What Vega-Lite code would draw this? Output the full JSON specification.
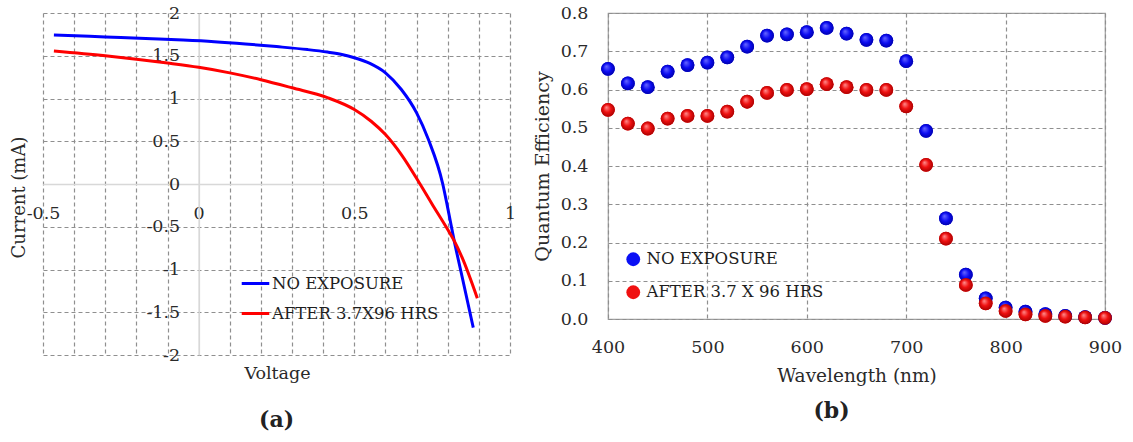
{
  "$schema": "https://vega.github.io/schema/vega-lite/v6.json",
  "background": "white",
  "padding": {"left": 10, "top": 3, "right": 5, "bottom": 5},
  "config": {
    "font": "DejaVu Serif",
    "concat": {"spacing": 16},
    "axis": {"labelFont": "DejaVu Serif", "titleFont": "DejaVu Serif", "labelColor": "#2a2a2a", "titleColor": "#2a2a2a", "titleFontWeight": "normal", "ticks": false, "tickSize": 0},
    "legend": {"labelFont": "DejaVu Serif", "labelColor": "#1e1e1e", "labelLimit": 0}
  },
  "resolve": {"scale": {"color": "independent"}, "legend": {"color": "independent"}},
  "hconcat": [
    {
      "width": 467,
      "height": 342,
      "view": {"stroke": null},
      "title": {"text": "(a)", "orient": "bottom", "frame": "group", "anchor": "middle", "fontSize": 22, "fontWeight": "bold", "font": "DejaVu Serif", "color": "#222222", "offset": 28},
      "data": {"values": [
        {"V": -0.465, "I": 1.743, "series": "NO EXPOSURE"},
        {"V": -0.35, "I": 1.728, "series": "NO EXPOSURE"},
        {"V": -0.25, "I": 1.713, "series": "NO EXPOSURE"},
        {"V": -0.15, "I": 1.698, "series": "NO EXPOSURE"},
        {"V": -0.05, "I": 1.683, "series": "NO EXPOSURE"},
        {"V": 0.05, "I": 1.664, "series": "NO EXPOSURE"},
        {"V": 0.15, "I": 1.638, "series": "NO EXPOSURE"},
        {"V": 0.25, "I": 1.607, "series": "NO EXPOSURE"},
        {"V": 0.35, "I": 1.572, "series": "NO EXPOSURE"},
        {"V": 0.4135, "I": 1.543, "series": "NO EXPOSURE"},
        {"V": 0.46, "I": 1.515, "series": "NO EXPOSURE"},
        {"V": 0.5, "I": 1.477, "series": "NO EXPOSURE"},
        {"V": 0.55, "I": 1.41, "series": "NO EXPOSURE"},
        {"V": 0.6, "I": 1.3, "series": "NO EXPOSURE"},
        {"V": 0.651, "I": 1.105, "series": "NO EXPOSURE"},
        {"V": 0.7, "I": 0.832, "series": "NO EXPOSURE"},
        {"V": 0.738, "I": 0.52, "series": "NO EXPOSURE"},
        {"V": 0.784, "I": 0.0, "series": "NO EXPOSURE"},
        {"V": 0.799, "I": -0.262, "series": "NO EXPOSURE"},
        {"V": 0.819, "I": -0.633, "series": "NO EXPOSURE"},
        {"V": 0.846, "I": -1.082, "series": "NO EXPOSURE"},
        {"V": 0.882, "I": -1.68, "series": "NO EXPOSURE"},
        {"V": -0.465, "I": 1.556, "series": "AFTER 3.7X96 HRS"},
        {"V": -0.3, "I": 1.5, "series": "AFTER 3.7X96 HRS"},
        {"V": -0.2, "I": 1.46, "series": "AFTER 3.7X96 HRS"},
        {"V": -0.1, "I": 1.415, "series": "AFTER 3.7X96 HRS"},
        {"V": 0.0, "I": 1.365, "series": "AFTER 3.7X96 HRS"},
        {"V": 0.1, "I": 1.3, "series": "AFTER 3.7X96 HRS"},
        {"V": 0.2, "I": 1.22, "series": "AFTER 3.7X96 HRS"},
        {"V": 0.3, "I": 1.125, "series": "AFTER 3.7X96 HRS"},
        {"V": 0.4135, "I": 1.01, "series": "AFTER 3.7X96 HRS"},
        {"V": 0.5, "I": 0.871, "series": "AFTER 3.7X96 HRS"},
        {"V": 0.554, "I": 0.734, "series": "AFTER 3.7X96 HRS"},
        {"V": 0.6, "I": 0.578, "series": "AFTER 3.7X96 HRS"},
        {"V": 0.651, "I": 0.344, "series": "AFTER 3.7X96 HRS"},
        {"V": 0.711, "I": 0.0, "series": "AFTER 3.7X96 HRS"},
        {"V": 0.749, "I": -0.23, "series": "AFTER 3.7X96 HRS"},
        {"V": 0.799, "I": -0.527, "series": "AFTER 3.7X96 HRS"},
        {"V": 0.819, "I": -0.652, "series": "AFTER 3.7X96 HRS"},
        {"V": 0.846, "I": -0.859, "series": "AFTER 3.7X96 HRS"},
        {"V": 0.895, "I": -1.336, "series": "AFTER 3.7X96 HRS"}
      ]},
      "mark": {"type": "line", "strokeWidth": 3, "interpolate": "monotone"},
      "encoding": {
        "x": {
          "field": "V", "type": "quantitative",
          "scale": {"domain": [-0.5, 1], "nice": false, "zero": false},
          "axis": {
            "orient": "bottom", "offset": -171,
            "values": [-0.5, -0.4, -0.3, -0.2, -0.1, 0, 0.1, 0.2, 0.3, 0.4, 0.5, 0.6, 0.7, 0.8, 0.9, 1],
            "labelExpr": "(datum.value == -0.5 || datum.value == 0 || datum.value == 0.5 || datum.value == 1) ? (datum.value < 0 ? '-' + format(-datum.value, '') : format(datum.value, '')) : ''",
            "labelFlush": false, "labelOverlap": false, "labelPadding": 20, "labelFontSize": 17.5,
            "grid": true,
            "gridColor": {"condition": {"test": "datum.value == 0", "value": "#d8d8d8"}, "value": "#8f8f8f"},
            "gridDash": {"condition": {"test": "datum.value == 0", "value": []}, "value": [4, 3]},
            "gridWidth": 1.2,
            "domain": true, "domainColor": "#d8d8d8", "domainWidth": 1.5,
            "title": "Voltage", "titleFontSize": 17.5, "titleX": 234, "titleY": 189, "titleAlign": "center", "titleBaseline": "middle", "titleAnchor": null
          }
        },
        "y": {
          "field": "I", "type": "quantitative",
          "scale": {"domain": [-2, 2], "nice": false, "zero": false},
          "axis": {
            "orient": "left", "offset": -155.67,
            "values": [-2, -1.5, -1, -0.5, 0, 0.5, 1, 1.5, 2],
            "labelExpr": "datum.value < 0 ? '-' + format(-datum.value, '') : format(datum.value, '')",
            "labelFlush": false, "labelOverlap": false, "labelPadding": 19, "labelFontSize": 17.5,
            "grid": true,
            "gridColor": {"condition": {"test": "datum.value == 0", "value": "#d8d8d8"}, "value": "#8f8f8f"},
            "gridDash": {"condition": {"test": "datum.value == 0", "value": []}, "value": [4, 3]},
            "gridWidth": 1.2,
            "domain": true, "domainColor": "#d8d8d8", "domainWidth": 1.5,
            "title": "Current (mA)", "titleFontSize": 18, "titleX": -179.67, "titleY": 184, "titleAngle": -90, "titleAlign": "center", "titleBaseline": "middle", "titleAnchor": null
          }
        },
        "color": {
          "field": "series", "type": "nominal",
          "scale": {"domain": ["NO EXPOSURE", "AFTER 3.7X96 HRS"], "range": ["#0000ff", "#ff0000"]},
          "legend": {
            "orient": "none", "legendX": 197, "legendY": 255, "title": null,
            "symbolType": "stroke", "symbolSize": 760, "symbolStrokeWidth": 3,
            "labelFontSize": 16.5, "labelOffset": 1, "rowPadding": 6, "padding": 0
          }
        }
      }
    },
    {
      "width": 497,
      "height": 306,
      "view": {"stroke": "#a0a0a0", "strokeWidth": 1.2},
      "title": {"text": "(b)", "orient": "bottom", "frame": "group", "anchor": "middle", "dx": -25, "fontSize": 22, "fontWeight": "bold", "font": "DejaVu Serif", "color": "#222222", "offset": 16},
      "data": {"values": [
        {"wl": 400, "qe": 0.654, "series": "NO EXPOSURE"},
        {"wl": 420, "qe": 0.616, "series": "NO EXPOSURE"},
        {"wl": 440, "qe": 0.606, "series": "NO EXPOSURE"},
        {"wl": 460, "qe": 0.647, "series": "NO EXPOSURE"},
        {"wl": 480, "qe": 0.664, "series": "NO EXPOSURE"},
        {"wl": 500, "qe": 0.670, "series": "NO EXPOSURE"},
        {"wl": 520, "qe": 0.684, "series": "NO EXPOSURE"},
        {"wl": 540, "qe": 0.712, "series": "NO EXPOSURE"},
        {"wl": 560, "qe": 0.741, "series": "NO EXPOSURE"},
        {"wl": 580, "qe": 0.744, "series": "NO EXPOSURE"},
        {"wl": 600, "qe": 0.750, "series": "NO EXPOSURE"},
        {"wl": 620, "qe": 0.761, "series": "NO EXPOSURE"},
        {"wl": 640, "qe": 0.746, "series": "NO EXPOSURE"},
        {"wl": 660, "qe": 0.730, "series": "NO EXPOSURE"},
        {"wl": 680, "qe": 0.728, "series": "NO EXPOSURE"},
        {"wl": 700, "qe": 0.674, "series": "NO EXPOSURE"},
        {"wl": 720, "qe": 0.492, "series": "NO EXPOSURE"},
        {"wl": 740, "qe": 0.263, "series": "NO EXPOSURE"},
        {"wl": 760, "qe": 0.116, "series": "NO EXPOSURE"},
        {"wl": 780, "qe": 0.054, "series": "NO EXPOSURE"},
        {"wl": 800, "qe": 0.030, "series": "NO EXPOSURE"},
        {"wl": 820, "qe": 0.019, "series": "NO EXPOSURE"},
        {"wl": 840, "qe": 0.013, "series": "NO EXPOSURE"},
        {"wl": 860, "qe": 0.008, "series": "NO EXPOSURE"},
        {"wl": 880, "qe": 0.005, "series": "NO EXPOSURE"},
        {"wl": 900, "qe": 0.003, "series": "NO EXPOSURE"},
        {"wl": 400, "qe": 0.547, "series": "AFTER 3.7 X 96 HRS"},
        {"wl": 420, "qe": 0.511, "series": "AFTER 3.7 X 96 HRS"},
        {"wl": 440, "qe": 0.498, "series": "AFTER 3.7 X 96 HRS"},
        {"wl": 460, "qe": 0.524, "series": "AFTER 3.7 X 96 HRS"},
        {"wl": 480, "qe": 0.531, "series": "AFTER 3.7 X 96 HRS"},
        {"wl": 500, "qe": 0.531, "series": "AFTER 3.7 X 96 HRS"},
        {"wl": 520, "qe": 0.542, "series": "AFTER 3.7 X 96 HRS"},
        {"wl": 540, "qe": 0.568, "series": "AFTER 3.7 X 96 HRS"},
        {"wl": 560, "qe": 0.591, "series": "AFTER 3.7 X 96 HRS"},
        {"wl": 580, "qe": 0.599, "series": "AFTER 3.7 X 96 HRS"},
        {"wl": 600, "qe": 0.601, "series": "AFTER 3.7 X 96 HRS"},
        {"wl": 620, "qe": 0.614, "series": "AFTER 3.7 X 96 HRS"},
        {"wl": 640, "qe": 0.606, "series": "AFTER 3.7 X 96 HRS"},
        {"wl": 660, "qe": 0.599, "series": "AFTER 3.7 X 96 HRS"},
        {"wl": 680, "qe": 0.599, "series": "AFTER 3.7 X 96 HRS"},
        {"wl": 700, "qe": 0.556, "series": "AFTER 3.7 X 96 HRS"},
        {"wl": 720, "qe": 0.403, "series": "AFTER 3.7 X 96 HRS"},
        {"wl": 740, "qe": 0.210, "series": "AFTER 3.7 X 96 HRS"},
        {"wl": 760, "qe": 0.089, "series": "AFTER 3.7 X 96 HRS"},
        {"wl": 780, "qe": 0.041, "series": "AFTER 3.7 X 96 HRS"},
        {"wl": 800, "qe": 0.021, "series": "AFTER 3.7 X 96 HRS"},
        {"wl": 820, "qe": 0.012, "series": "AFTER 3.7 X 96 HRS"},
        {"wl": 840, "qe": 0.008, "series": "AFTER 3.7 X 96 HRS"},
        {"wl": 860, "qe": 0.006, "series": "AFTER 3.7 X 96 HRS"},
        {"wl": 880, "qe": 0.004, "series": "AFTER 3.7 X 96 HRS"},
        {"wl": 900, "qe": 0.003, "series": "AFTER 3.7 X 96 HRS"}
      ]},
      "encoding": {
        "x": {
          "field": "wl", "type": "quantitative",
          "scale": {"domain": [400, 900], "nice": false, "zero": false},
          "axis": {
            "values": [400, 500, 600, 700, 800, 900], "labelFlush": false, "labelPadding": 19, "labelFontSize": 17.5,
            "grid": true, "gridColor": "#8f8f8f", "gridDash": [4, 3], "gridWidth": 1.2, "domain": false,
            "title": "Wavelength (nm)", "titleFontSize": 18.5, "titlePadding": 11
          }
        },
        "y": {
          "field": "qe", "type": "quantitative",
          "scale": {"domain": [0, 0.8], "nice": false},
          "axis": {
            "values": [0, 0.1, 0.2, 0.3, 0.4, 0.5, 0.6, 0.7, 0.8], "format": ".1f", "labelFlush": false, "labelPadding": 20, "labelFontSize": 17.5,
            "grid": true, "gridColor": "#8f8f8f", "gridDash": [4, 3], "gridWidth": 1.2, "domain": false,
            "title": "Quantum Efficiency", "titleFontSize": 19, "titlePadding": 8
          }
        }
      },
      "layer": [
        {
          "mark": {"type": "circle", "size": 190, "opacity": 1},
          "encoding": {
            "color": {
              "field": "series", "type": "nominal",
              "scale": {"domain": ["NO EXPOSURE", "AFTER 3.7 X 96 HRS"], "range": ["#0a10f5", "#f01010"]},
              "legend": {
                "orient": "none", "legendX": 17, "legendY": 238, "title": null,
                "symbolType": "circle", "symbolSize": 190, "symbolOpacity": 1, "symbolStrokeWidth": 0,
                "labelFontSize": 16.5, "labelOffset": 5, "rowPadding": 16, "padding": 0
              }
            }
          }
        },
        {
          "transform": [{"filter": "datum.series == 'NO EXPOSURE'"}],
          "mark": {"type": "circle", "size": 190, "opacity": 1,
            "fill": {"gradient": "radial", "x1": 0.38, "y1": 0.32, "r1": 0, "x2": 0.5, "y2": 0.5, "r2": 0.55,
              "stops": [{"offset": 0, "color": "#6a6aff"}, {"offset": 0.55, "color": "#0a0af2"}, {"offset": 1, "color": "#0000a0"}]}},
          "encoding": {}
        },
        {
          "transform": [{"filter": "datum.series != 'NO EXPOSURE'"}],
          "mark": {"type": "circle", "size": 190, "opacity": 1,
            "fill": {"gradient": "radial", "x1": 0.38, "y1": 0.32, "r1": 0, "x2": 0.5, "y2": 0.5, "r2": 0.55,
              "stops": [{"offset": 0, "color": "#ff9090"}, {"offset": 0.5, "color": "#f01010"}, {"offset": 1, "color": "#a00000"}]}},
          "encoding": {}
        }
      ]
    }
  ]
}
